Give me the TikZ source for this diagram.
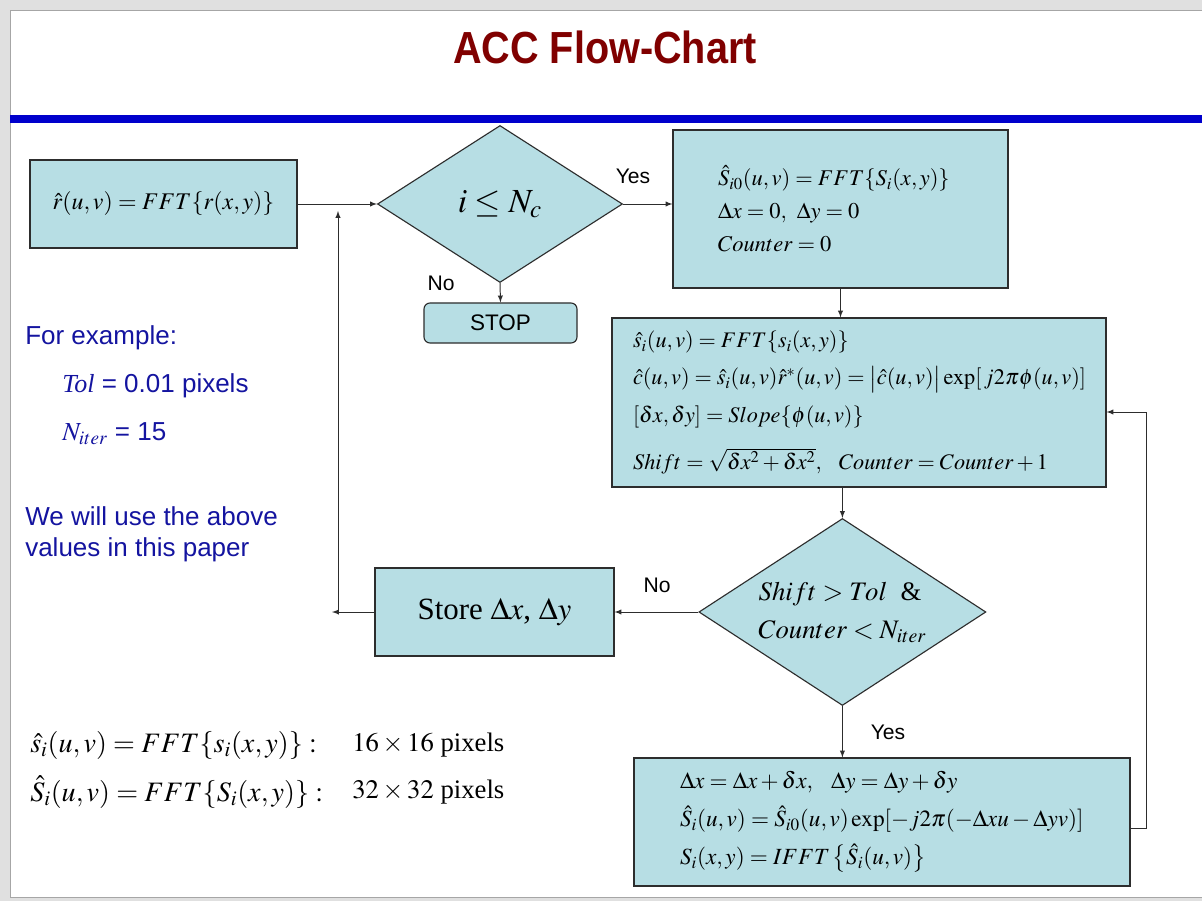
\documentclass[tikz,border=0pt]{standalone}
\usepackage{graphicx}
\usepackage{mathptmx}
\usepackage{fontspec}
\setmainfont{Liberation Serif}
\setsansfont{Liberation Sans}
\usetikzlibrary{shapes.geometric}
\definecolor{boxfill}{RGB}{183,222,228}
\definecolor{titlered}{RGB}{128,0,0}
\definecolor{slideblue}{RGB}{0,0,204}
\definecolor{noteblue}{RGB}{20,20,160}
\definecolor{linegray}{RGB}{45,45,45}
\begin{document}
\begin{tikzpicture}[
  calcbox/.style={rectangle,draw=linegray,fill=boxfill,line width=0.8pt},
  decision/.style={diamond,draw=linegray,fill=boxfill,line width=0.8pt,inner sep=0pt},
  yesno/.style={font=\sffamily\fontsize{15}{18}\selectfont},
  note/.style={anchor=west,inner xsep=0pt,text=noteblue,font=\sffamily\fontsize{18.5}{22}\selectfont},
  plain/.style={anchor=west,inner xsep=0pt,font=\fontsize{20}{24}\selectfont},
  flow/.style={-latex,draw=linegray,line width=0.7pt}]

% slide frame
\useasboundingbox (0,0) rectangle (30.05,-22.525);
\fill[black!12] (0,0) rectangle (30.05,-22.525);
\draw[fill=white,draw=black!35] (0.25,-0.25) rectangle (30.4,-22.42);
\draw (15.125,-1.175) node[text=titlered] (title) {\scalebox{0.88}[1]{\sffamily\bfseries\fontsize{32}{36}\selectfont ACC Flow-Chart}};
\draw[slideblue,line width=5pt] (0.25,-2.975) -- (30.4,-2.975);

% flow chart
\draw (4.0875,-5.1) node[calcbox,minimum width=6.675cm,minimum height=2.2cm,font=\fontsize{17}{22}\selectfont] (rhat) {$\hat{r}(u,v) = FFT\{r(x,y)\}$};
\draw (12.5,-5.1) node[decision,aspect=1.56,minimum width=6.125cm,minimum height=3.925cm,font=\fontsize{24}{28}\selectfont] (check) {$i \le N_c$};
\draw (12.5125,-8.075) node[calcbox,rounded corners=1.5mm,minimum width=3.825cm,minimum height=1cm,font=\sffamily\fontsize{16}{19}\selectfont] (stop) {STOP};
\draw (21.0125,-5.225) node[calcbox,minimum height=3.95cm,text width=6.125cm,inner xsep=1.125cm,align=left,font=\fontsize{16}{23.5}\selectfont] (init) {$\hat{S}_{i0}(u,v) = FFT\{S_i(x,y)\}$\\ $\Delta x = 0,\ \Delta y = 0$\\ $Counter = 0$};
\draw (21.475,-10.0625) node[calcbox,minimum height=4.225cm,text width=11.3cm,inner xsep=0.525cm,align=left,font=\fontsize{15.8}{26.5}\selectfont] (corr) {\mbox{$\hat{s}_i(u,v) = FFT\{s_i(x,y)\}$}\\ \mbox{$\hat{c}(u,v) = \hat{s}_i(u,v)\hat{r}^{*}(u,v) = \bigl|\hat{c}(u,v)\bigr|\exp[\,j2\pi\phi(u,v)]$}\\ \mbox{$[\delta x, \delta y] = Slope\{\phi(u,v)\}$}\\[7pt] \mbox{$Shift = \sqrt{\delta x^2 + \delta x^2},\ \ Counter = Counter + 1$}};
\draw (21.06,-15.3) node[decision,aspect=1.535,minimum width=7.175cm,minimum height=4.675cm,align=left,font=\fontsize{19}{27}\selectfont] (test) {$Shift > Tol$\ \ \&\\ $Counter < N_{iter}$};
\draw (12.3625,-15.3) node[calcbox,minimum width=5.975cm,minimum height=2.2cm,font=\fontsize{22}{26}\selectfont] (store) {Store $\Delta x$, $\Delta y$};
\draw (22.05,-20.55) node[calcbox,minimum height=3.2cm,text width=10.1cm,inner xsep=1.15cm,align=left,font=\fontsize{16.5}{27}\selectfont] (update) {$\Delta x = \Delta x + \delta x,\ \ \Delta y = \Delta y + \delta y$\\ $\hat{S}_i(u,v) = \hat{S}_{i0}(u,v)\exp[-j2\pi(-\Delta x u - \Delta y v)]$\\ $S_i(x,y) = IFFT\left\{\hat{S}_i(u,v)\right\}$};

% labels
\draw (15.825,-4.4) node[yesno] (yes1) {Yes};
\draw (11.025,-7.075) node[yesno] (no1) {No};
\draw (16.425,-14.625) node[yesno] (no2) {No};
\draw (22.2,-18.3) node[yesno] (yes2) {Yes};

% connectors
\coordinate (backL) at (8.3,-15.3);
\coordinate (backB) at (8.45,-15.3);
\coordinate (backT) at (8.45,-5.275);
\coordinate (loopR) at (28.65,-20.7);
\coordinate (loopT) at (28.65,-10.3);
\draw[flow] (rhat.east) -- (check.west);
\draw[flow] (check.east) -- (init.west |- check.east);
\draw[flow] (check.south) -- (stop.north);
\draw[flow] (init.south) -- (init.south |- corr.north);
\draw[flow] (test.north |- corr.south) -- (test.north);
\draw[flow] (test.west) -- (test.west -| store.east);
\draw[flow] (test.south) -- (test.south |- update.north);
\draw[flow] (update.east |- loopR) -- (loopR) -- (loopT) -- (corr.east |- loopT);
\draw[flow] (store.west) -- (backL);
\draw[flow] (backB) -- (backT);

% notes
\draw (0.625,-8.45) node[note] (ex) {For example:};
\draw (1.55,-9.65) node[note] (tol) {{\rmfamily\itshape Tol} = 0.01 pixels};
\draw (1.55,-10.85) node[note] (niter) {$N_{iter}$ = 15};
\draw (0.625,-13.36) node[note,align=left] (use) {We will use the above\\values in this paper};
\draw (0.75,-18.625) node[plain] (small) {$\hat{s}_i(u,v) = FFT\{s_i(x,y)\}:$};
\draw (8.8,-18.625) node[plain,font=\fontsize{19}{24}\selectfont] (smallpx) {$16\times 16$ pixels};
\draw (0.75,-19.8) node[plain] (big) {$\hat{S}_i(u,v) = FFT\{S_i(x,y)\}:$};
\draw (8.8,-19.8) node[plain,font=\fontsize{19}{24}\selectfont] (bigpx) {$32\times 32$ pixels};
\end{tikzpicture}
\end{document}
